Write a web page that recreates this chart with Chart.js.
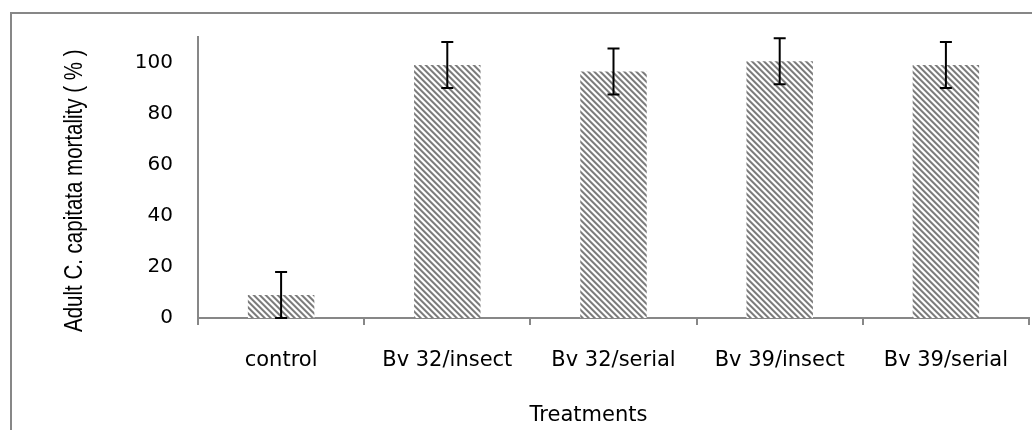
<!DOCTYPE html>
<html>
<head>
<meta charset="utf-8">
<script src="https://cdn.jsdelivr.net/npm/chart.js@4.4.1/dist/chart.umd.min.js"></script>
<style>
  html, body { margin: 0; padding: 0; background: #fff; }
  #wrap { position: relative; width: 1032px; height: 430px; }
</style>
</head>
<body>
<div id="wrap"><canvas id="mortality-chart"></canvas></div>
<script>
const treatments = ['control', 'Bv 32/insect', 'Bv 32/serial', 'Bv 39/insect', 'Bv 39/serial'];
const mortality = [9, 99, 96.5, 100.5, 99];
const mortalityErr = [9, 9, 9, 9, 9];
const yTicks = [0, 20, 40, 60, 80, 100];
const yTitle = 'Adult C. capitata mortality ( % )';
const xTitle = 'Treatments';

// diagonal stripe fill like the excel pattern
function stripePattern() {
  const size = 6;
  const c = document.createElement('canvas');
  c.width = size;
  c.height = size;
  const cx = c.getContext('2d');
  const img = cx.createImageData(size, size);
  for (let y = 0; y < size; y++) {
    for (let x = 0; x < size; x++) {
      const d = ((x - y) % size + size) % size;
      let v = 255;
      if (d === 0 || d === 1) v = 125;
      else if (d === 2) v = 175;
      else if (d === 5) v = 215;
      const i = (y * size + x) * 4;
      img.data[i] = v; img.data[i + 1] = v; img.data[i + 2] = v; img.data[i + 3] = 255;
    }
  }
  cx.putImageData(img, 0, 0);
  return cx.createPattern(c, 'repeat');
}

const frame = {
  id: 'frame',
  beforeDraw(chart) {
    const ctx = chart.ctx;
    ctx.save();
    ctx.strokeStyle = '#878787';
    ctx.lineWidth = 2;
    ctx.beginPath();
    ctx.moveTo(11, 430);
    ctx.lineTo(11, 13);
    ctx.lineTo(1032, 13);
    ctx.stroke();
    ctx.restore();
  }
};

// axis titles: the y one is a narrow face, so squeeze Liberation Sans
const axisTitles = {
  id: 'axisTitles',
  afterDraw(chart) {
    const ctx = chart.ctx;
    const area = chart.chartArea;
    ctx.save();
    ctx.fillStyle = '#000';
    ctx.font = '25px "Liberation Sans"';
    ctx.textAlign = 'left';
    ctx.textBaseline = 'alphabetic';
    ctx.translate(82, area.bottom + 14);
    ctx.rotate(-Math.PI / 2);
    ctx.scale(0.82, 1);
    ctx.fillText(yTitle, 0, 0);
    ctx.restore();

    ctx.save();
    ctx.fillStyle = '#000';
    ctx.font = '21px "DejaVu Sans"';
    ctx.textAlign = 'center';
    ctx.textBaseline = 'alphabetic';
    ctx.fillText(xTitle, (area.left + area.right) / 2 - 25, 421);
    ctx.restore();
  }
};

const errorBars = {
  id: 'errorBars',
  afterDatasetsDraw(chart) {
    const ctx = chart.ctx;
    const y = chart.scales.y;
    const meta = chart.getDatasetMeta(0);
    ctx.save();
    ctx.strokeStyle = '#000';
    ctx.lineWidth = 2;
    meta.data.forEach((bar, i) => {
      const top = y.getPixelForValue(mortality[i] + mortalityErr[i]);
      const bot = y.getPixelForValue(Math.max(mortality[i] - mortalityErr[i], 0));
      ctx.beginPath();
      ctx.moveTo(bar.x, top);
      ctx.lineTo(bar.x, bot);
      ctx.moveTo(bar.x - 6, top);
      ctx.lineTo(bar.x + 6, top);
      ctx.moveTo(bar.x - 6, bot);
      ctx.lineTo(bar.x + 6, bot);
      ctx.stroke();
    });
    ctx.restore();
  }
};

const data = {
  labels: treatments,
  datasets: [
    {
      data: mortality,
      backgroundColor: stripePattern(),
      borderWidth: 0,
      barPercentage: 0.4,
      categoryPercentage: 1,
    },
  ],
};

const config = {
  type: 'bar',
  data: data,
  plugins: [frame, errorBars, axisTitles],
  options: {
    responsive: false,
    animation: false,
    layout: {
      padding: { left: 10, top: 36, right: 3, bottom: 0 },
    },
    scales: {
      x: {
        grid: {
          display: true,
          offset: true,
          drawOnChartArea: false,
          drawTicks: true,
          tickLength: 7,
          color: '#878787',
          lineWidth: 2,
        },
        border: { display: true, color: '#878787', width: 2 },
        ticks: {
          color: '#000',
          font: { family: 'DejaVu Sans', size: 21 },
          padding: 23,
          maxRotation: 0,
        },
        afterFit(scale) { scale.height = 112; },
      },
      y: {
        min: 0,
        max: 110,
        grid: { display: false, drawTicks: false },
        border: { display: true, color: '#878787', width: 2 },
        ticks: {
          stepSize: 20,
          color: '#000',
          font: { family: 'DejaVu Sans', size: 20 },
          padding: 25,
        },
        afterBuildTicks(scale) {
          scale.ticks = yTicks.map(v => ({ value: v }));
        },
        afterFit(scale) { scale.width = 188; },
      },
    },
    plugins: {
      legend: { display: false },
      tooltip: { enabled: false },
    },
  },
};

const canvas = document.getElementById('mortality-chart');
canvas.width = 1032;
canvas.height = 430;
new Chart(canvas, config);
</script>
</body>
</html>
